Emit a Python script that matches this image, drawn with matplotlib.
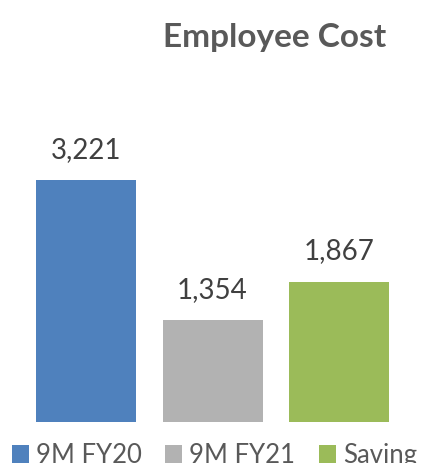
import matplotlib
matplotlib.use('Agg')
import matplotlib.pyplot as plt
from matplotlib.patches import Patch

categories = ['9M FY20', '9M FY21', 'Saving']
values = [3221, 1354, 1867]
colors = ['#4F81BD', '#B2B2B2', '#9BBB59']

plt.rcParams['font.family'] = ['Lato', 'DejaVu Sans']

fig = plt.figure(figsize=(4.24, 4.63), dpi=100)
ax = fig.add_axes([0, 41 / 463, 1, 422 / 463])

x = range(len(values))
bars = ax.bar(x, values, width=100 / 126.5, color=colors)
for b, v in zip(bars, values):
    ax.text(b.get_x() + b.get_width() / 2, v + 230, f'{v:,}',
            ha='center', va='bottom', fontsize=20, color='#404040')

ax.set_xlim(-86 / 126.5, (424 - 86) / 126.5)
ax.set_ylim(0, 3221 * 422 / 242)
ax.axis('off')

fig.text(275 / 424, 1 - 37 / 463, 'Employee Cost', ha='center', va='center',
         fontsize=24, fontweight='bold', color='#595959')

handles = [Patch(facecolor=c) for c in colors]
fig.legend(handles, categories, loc='upper left', ncol=3,
           bbox_to_anchor=(12 / 424, 1 - 443 / 463), frameon=False,
           fontsize=18.5, labelcolor='#595959', handlelength=0.66,
           handleheight=0.66, handletextpad=0.27, columnspacing=0.92,
           borderpad=0, borderaxespad=0)

fig.savefig('out.png', dpi=100)
